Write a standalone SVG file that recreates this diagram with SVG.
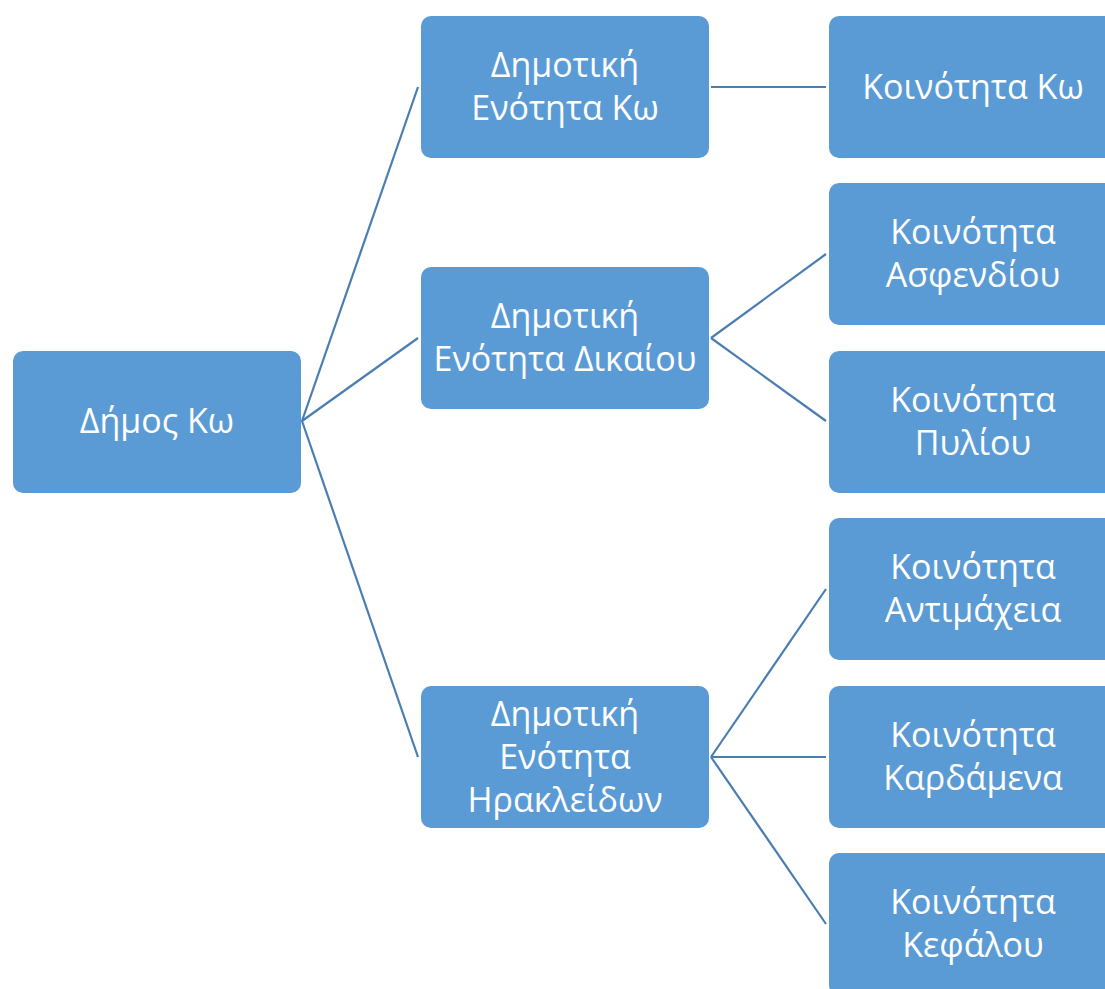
<svg xmlns="http://www.w3.org/2000/svg" width="1105" height="989" viewBox="0 0 1105 989">
<style>
.box{fill:#5B9BD5;}
.t{font-family:"Open Sans","Noto Sans","DejaVu Sans",sans-serif;font-size:34px;fill:#FFFFFF;text-anchor:middle;}
.c{stroke:#4A7EB3;stroke-width:2.2;fill:none;}
</style>
<rect width="1105" height="989" fill="#FFFFFF"/>
<g id="connectors">
<line class="c" x1="302" y1="421" x2="418" y2="87"/>
<line class="c" x1="302" y1="421" x2="418" y2="338"/>
<line class="c" x1="302" y1="421" x2="418" y2="757"/>
<line class="c" x1="711" y1="87" x2="826" y2="87"/>
<line class="c" x1="711" y1="338" x2="826" y2="254"/>
<line class="c" x1="711" y1="338" x2="826" y2="421"/>
<line class="c" x1="711" y1="757" x2="826" y2="589"/>
<line class="c" x1="711" y1="757" x2="826" y2="757"/>
<line class="c" x1="711" y1="757" x2="826" y2="924"/>
</g>
<g id="n-dimos"><rect class="box" x="13" y="351" width="288" height="142" rx="10"/><text class="t" x="157" y="433">Δήμος Κω</text></g>
<g id="n-de-ko"><rect class="box" x="421" y="16" width="288" height="142" rx="10"/><text class="t" x="565" y="77">Δημοτική</text><text class="t" x="565" y="120">Ενότητα Κω</text></g>
<g id="n-de-dikaiou"><rect class="box" x="421" y="267" width="288" height="142" rx="10"/><text class="t" x="565" y="328">Δημοτική</text><text class="t" x="565" y="371">Ενότητα Δικαίου</text></g>
<g id="n-de-irakleidon"><rect class="box" x="421" y="686" width="288" height="142" rx="10"/><text class="t" x="565" y="726">Δημοτική</text><text class="t" x="565" y="769">Ενότητα</text><text class="t" x="565" y="812">Ηρακλείδων</text></g>
<g id="n-k-ko"><rect class="box" x="829" y="16" width="288" height="142" rx="10"/><text class="t" x="973" y="99">Κοινότητα Κω</text></g>
<g id="n-k-asfendiou"><rect class="box" x="829" y="183" width="288" height="142" rx="10"/><text class="t" x="973" y="244">Κοινότητα</text><text class="t" x="973" y="287">Ασφενδίου</text></g>
<g id="n-k-pyliou"><rect class="box" x="829" y="351" width="288" height="142" rx="10"/><text class="t" x="973" y="412">Κοινότητα</text><text class="t" x="973" y="455">Πυλίου</text></g>
<g id="n-k-antimacheia"><rect class="box" x="829" y="518" width="288" height="142" rx="10"/><text class="t" x="973" y="579">Κοινότητα</text><text class="t" x="973" y="622">Αντιμάχεια</text></g>
<g id="n-k-kardamena"><rect class="box" x="829" y="686" width="288" height="142" rx="10"/><text class="t" x="973" y="747">Κοινότητα</text><text class="t" x="973" y="790">Καρδάμενα</text></g>
<g id="n-k-kefalou"><rect class="box" x="829" y="853" width="288" height="142" rx="10"/><text class="t" x="973" y="914">Κοινότητα</text><text class="t" x="973" y="957">Κεφάλου</text></g>
</svg>
